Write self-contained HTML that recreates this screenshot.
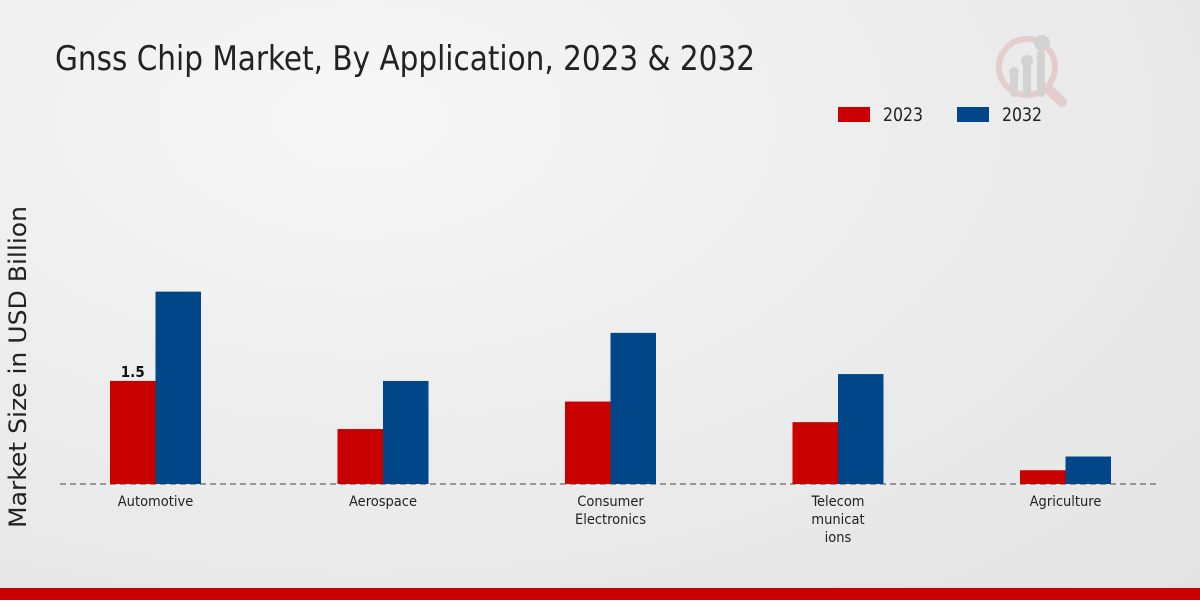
<!DOCTYPE html>
<html><head><meta charset="utf-8"><style>
body{margin:0;width:1200px;height:600px;overflow:hidden;font-family:"DejaVu Sans Condensed","Liberation Sans",sans-serif;}
#c{position:absolute;left:0;top:0;width:1200px;height:600px;background:radial-gradient(ellipse at 30% 20%,#f7f7f7 0%,#ececec 50%,#e4e4e4 100%);}
</style></head><body>
<div id="c">
<svg id="s" width="1200" height="600">
<text x="55" y="70" font-size="34" textLength="700" lengthAdjust="spacingAndGlyphs" fill="#222">Gnss Chip Market, By Application, 2023 &amp; 2032</text>
<g opacity="0.5">
<circle cx="1027" cy="67" r="28" fill="none" stroke="#e0b0b0" stroke-width="6"/>
<line x1="1047" y1="88" x2="1062" y2="102" stroke="#e0b0b0" stroke-width="10" stroke-linecap="round"/>
<rect x="1010" y="72" width="8" height="25" rx="4" fill="#bbb"/><rect x="1023" y="62" width="8" height="35" rx="4" fill="#bbb"/><rect x="1037" y="50" width="8" height="47" rx="4" fill="#bbb"/>
<circle cx="1014" cy="72" r="5" fill="#bbb"/><circle cx="1027" cy="61" r="6" fill="#bbb"/><circle cx="1042" cy="43" r="8" fill="#bbb"/>
</g>
<g>
<rect x="838" y="107" width="32" height="15" fill="#c80000"/>
<text x="883" y="121" font-size="19" textLength="40" lengthAdjust="spacingAndGlyphs" fill="#222">2023</text>
<rect x="957" y="107" width="32" height="15" fill="#004688"/>
<text x="1002" y="121" font-size="19" textLength="40" lengthAdjust="spacingAndGlyphs" fill="#222">2032</text>
</g>
<text transform="translate(26,367) rotate(-90)" text-anchor="middle" font-size="24" textLength="322" lengthAdjust="spacingAndGlyphs" fill="#222" style="font-family:'DejaVu Sans',sans-serif">Market Size in USD Billion</text>
<line x1="60" y1="484" x2="1160" y2="484" stroke="#444" stroke-dasharray="6,4"/>
<g id="bars"></g>
</svg>
<div style="position:absolute;left:0;top:588px;width:1200px;height:12px;background:#c80000"></div>
</div>
<script>
const categories=[["Automotive"],["Aerospace"],["Consumer","Electronics"],["Telecom","municat","ions"],["Agriculture"]];
const values2023=[1.5,0.8,1.2,0.9,0.2];
const values2032=[2.8,1.5,2.2,1.6,0.4];
const labelIdx=0;
const NS="http://www.w3.org/2000/svg";
const g=document.getElementById('bars');
const base=484,pxPer=68.7,x0=155.5,step=227.5,bw=45.5;
const y=v=>base-v*pxPer;
function mk(t,a){const e=document.createElementNS(NS,t);for(const k in a)e.setAttribute(k,a[k]);g.appendChild(e);return e;}
categories.forEach((c,i)=>{
 const cx=x0+i*step;
 const r=mk('rect',{x:cx-bw,y:y(values2023[i]),width:bw,height:values2023[i]*pxPer,fill:'#c80000'});
 
 
 const b=mk('rect',{x:cx,y:y(values2032[i]),width:bw,height:values2032[i]*pxPer,fill:'#004688'});
 
 
 c.forEach((line,j)=>{
  const t=mk('text',{x:cx,y:506+j*18,'text-anchor':'middle','font-size':14.5,fill:'#222'});
  t.textContent=line;
  
  
 });
 if(i===labelIdx){
  const t=mk('text',{x:cx-bw/2,y:y(values2023[i])-4,'text-anchor':'middle','font-size':15,'font-weight':'bold',fill:'#111'});
  t.textContent=values2023[i];
  
  
 }
});
</script>
</body></html>
